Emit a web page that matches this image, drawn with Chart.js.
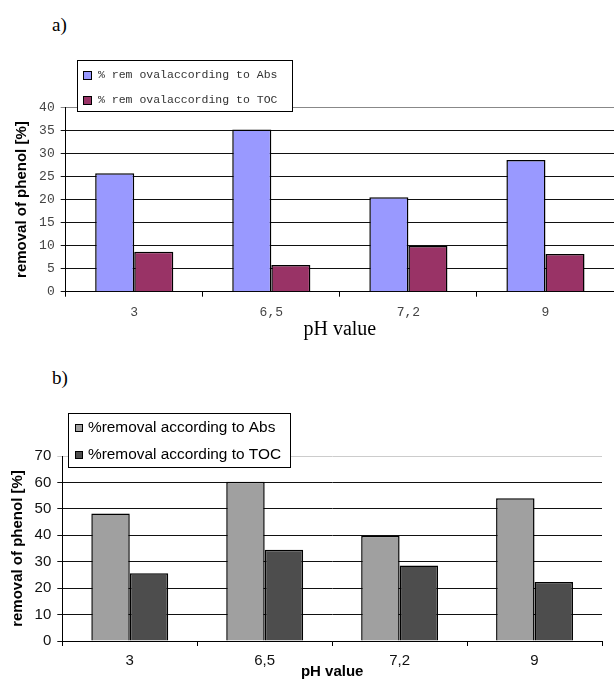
<!DOCTYPE html>
<html>
<head>
<meta charset="utf-8">
<script src="https://cdn.jsdelivr.net/npm/chart.js@4/dist/chart.umd.min.js"></script>
<style>
  html, body { margin: 0; padding: 0; background: #fff; }
  body { width: 614px; height: 679px; position: relative; overflow: hidden; }
  .panel { position: absolute; left: 0; width: 614px; }
  #wrapA { top: 0; height: 340px; }
  #wrapB { top: 340px; height: 339px; }
  .tag { position: absolute; font-family: "Liberation Serif", serif; font-size: 19px; line-height: 19px; color: #000; }
</style>
</head>
<body>
<div class="tag" style="left:52px;top:15px">a)</div>
<div class="tag" style="left:52px;top:368px">b)</div>
<div class="panel" id="wrapA"><canvas id="chartA" width="614" height="340"></canvas></div>
<div class="panel" id="wrapB"><canvas id="chartB" width="614" height="339"></canvas></div>
<script>
// pH values on the x axis
const phLabels = ['3', '6,5', '7,2', '9'];

// a) removal of phenol [%]
const removalAbsA = [25.7, 35.2, 20.5, 28.6];
const removalTocA = [8.7, 5.8, 9.9, 8.2];

// b) removal of phenol [%]
const removalAbsB = [48.2, 60.3, 39.8, 54.0];
const removalTocB = [25.6, 34.5, 28.6, 22.3];

const yTitle = 'removal of phenol [%]';
const xTitle = 'pH value';

// Boxed legend drawn over the top of the plot area
const boxLegend = {
  id: 'boxLegend',
  afterDraw(chart, args, o) {
    const ctx = chart.ctx;
    ctx.save();
    ctx.fillStyle = '#fff';
    ctx.fillRect(o.x, o.y, o.w, o.h);
    ctx.strokeStyle = '#000';
    ctx.lineWidth = 1;
    ctx.strokeRect(o.x + 0.5, o.y + 0.5, o.w, o.h);
    ctx.font = o.font;
    ctx.textBaseline = 'middle';
    ctx.textAlign = 'left';
    chart.data.datasets.forEach((ds, i) => {
      const cy = o.rows[i];
      const top = Math.round(cy - o.s / 2);
      ctx.fillStyle = ds.backgroundColor;
      ctx.fillRect(o.sx, top, o.s, o.s);
      ctx.strokeStyle = '#000';
      ctx.strokeRect(o.sx + 0.5, top + 0.5, o.s, o.s);
      ctx.fillStyle = o.color;
      ctx.fillText(ds.label, o.tx, cy);
    });
    ctx.restore();
  }
};

function makeChart(id, cfg) {
  return new Chart(document.getElementById(id), {
    type: 'bar',
    plugins: [boxLegend],
    data: {
      labels: phLabels,
      datasets: cfg.series.map(s => ({
        label: s.label,
        data: s.data,
        backgroundColor: s.color,
        borderColor: '#000',
        borderWidth: 1.5,
        categoryPercentage: 0.57,
        barPercentage: 1
      }))
    },
    options: {
      responsive: false,
      animation: false,
      devicePixelRatio: 1,
      layout: { padding: { top: cfg.top, left: 0, right: cfg.right, bottom: 0 } },
      plugins: {
        legend: { display: false },
        tooltip: { enabled: false },
        boxLegend: cfg.legend
      },
      scales: {
        x: {
          grid: { offset: true, drawOnChartArea: false, tickLength: 5, color: '#000' },
          border: { color: '#000', width: 1 },
          ticks: { font: cfg.tickFont, color: cfg.tickColor, padding: cfg.xPad },
          title: {
            display: true, text: xTitle, color: '#000',
            font: cfg.xTitleFont, padding: { top: 0, bottom: 0 }
          },
          afterFit(s) { s.height = cfg.xHeight; }
        },
        y: {
          min: 0, max: cfg.max,
          ticks: { stepSize: cfg.step, font: cfg.tickFont, color: cfg.tickColor, padding: cfg.yPad },
          grid: {
            tickLength: 5,
            color: c => c.tick && c.tick.value === cfg.max ? cfg.topGrid : '#111'
          },
          border: { color: '#000', width: 1 },
          title: {
            display: true, text: yTitle, color: '#000',
            font: { family: 'Liberation Sans', size: 15, weight: 'bold', lineHeight: 1.2 },
            padding: { top: cfg.yTitlePad, bottom: 0 }
          },
          afterFit(s) { s.width = cfg.yWidth; }
        }
      }
    }
  });
}

makeChart('chartA', {
  series: [
    { label: '% rem ovalaccording to Abs', data: removalAbsA, color: '#9999FF' },
    { label: '% rem ovalaccording to TOC', data: removalTocA, color: '#993366' }
  ],
  max: 40, step: 5, top: 107.5, right: 0, xHeight: 48.3, yWidth: 65.7,
  tickFont: { family: 'Liberation Mono', size: 13 }, tickColor: '#444',
  xPad: 8, yPad: 6, yTitlePad: 13, topGrid: '#888',
  xTitleFont: { family: 'Liberation Serif', size: 20, lineHeight: 1 },
  legend: {
    x: 77, y: 60, w: 215, h: 51, sx: 83, s: 8, tx: 98, rows: [75, 99.5],
    font: '11.5px "Liberation Mono"', color: '#333'
  }
});

makeChart('chartB', {
  series: [
    { label: '%removal according to Abs', data: removalAbsB, color: '#A0A0A0' },
    { label: '%removal according to TOC', data: removalTocB, color: '#4D4D4D' }
  ],
  max: 70, step: 10, top: 116, right: 12, xHeight: 38, yWidth: 62.3,
  tickFont: { family: 'Liberation Sans', size: 15 }, tickColor: '#111',
  xPad: 6, yPad: 6, yTitlePad: 8.5, topGrid: '#ccc',
  xTitleFont: { family: 'Liberation Sans', size: 15, weight: 'bold', lineHeight: 1 },
  legend: {
    x: 68, y: 73, w: 222, h: 54, sx: 75, s: 7, tx: 88, rows: [87.7, 114.3],
    font: '15.4px "Liberation Sans"', color: '#000'
  }
});
</script>
</body>
</html>
